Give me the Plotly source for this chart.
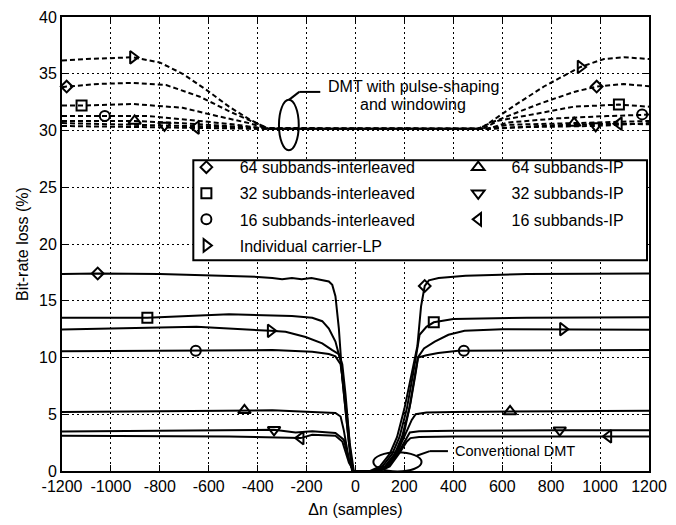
import plotly.graph_objects as go

FONT = "Arial, Liberation Sans, sans-serif"

# ---------------- data ----------------
series_names = ["64 subbands-interleaved", "32 subbands-interleaved", "16 subbands-interleaved",
                "Individual carrier-LP", "64 subbands-IP", "32 subbands-IP", "16 subbands-IP"]
series_symbols = ["diamond-open", "square-open", "circle-open", "triangle-right-open",
                  "triangle-up-open", "triangle-down-open", "triangle-left-open"]

x_tick_vals = [-1200, -1000, -800, -600, -400, -200, 0, 200, 400, 600, 800, 1000, 1200]
x_tick_text = ["-1200", "-1000", "-800", "-600", "-400", "-200", "0", "200", "400", "600", "800", "1000", "1200"]
y_tick_vals = [0, 5, 10, 15, 20, 25, 30, 35, 40]

# Conventional DMT (solid)
conv_x_64i = [-1200, -1054, -800, -517, -400, -340, -300, -260, -220, -180, -140, -109, -95, -82, -68, -54, -34, -14,
              60, 100, 140, 170, 200, 230, 253, 268, 283, 300, 320, 340, 450, 700, 1200]
conv_y_64i = [17.35, 17.4, 17.35, 17.2, 17.1, 17.0, 16.9, 17.0, 16.9, 17.0, 16.85, 16.7, 16.4, 15.4, 12.55, 8.2, 3.9, 0,
              0, 0.4, 1.5, 3.0, 5.5, 8.5, 11.0, 14.5, 16.3, 16.8, 16.9, 17.0, 17.2, 17.35, 17.4]
conv_x_32i = [-1200, -851, -517, -340, -260, -177, -136, -109, -82, -61, -48, -27, -11,
              70, 110, 150, 180, 210, 235, 250, 262, 290, 320, 400, 700, 1200]
conv_y_32i = [13.5, 13.5, 13.8, 13.7, 13.65, 13.5, 13.2, 12.55, 11.4, 9.7, 6.8, 2.5, 0,
              0, 0.4, 1.5, 3.0, 5.5, 8.5, 10.5, 12.0, 12.7, 13.1, 13.4, 13.5, 13.55]
conv_x_16i = [-1200, -653, -517, -340, -177, -109, -82, -61, -48, -30, -14,
              85, 125, 165, 195, 225, 245, 256, 290, 338, 420, 443, 700, 1200]
conv_y_16i = [10.54, 10.6, 10.6, 10.65, 10.5, 10.3, 10.1, 9.4, 7.4, 3.9, 0,
              0, 0.4, 1.5, 3.0, 6.0, 8.5, 10.0, 10.2, 10.4, 10.6, 10.6, 10.6, 10.65]
conv_x_lp = [-1200, -650, -347, -286, -204, -136, -95, -68, -54, -41, -24, -7,
             80, 120, 160, 190, 220, 240, 255, 280, 324, 380, 446, 600, 848, 1200]
conv_y_lp = [12.47, 12.7, 12.35, 12.27, 11.8, 11.25, 10.65, 10.3, 9.4, 6.8, 2.5, 0,
             0, 0.4, 1.5, 3.0, 5.5, 8.0, 10.0, 10.8, 11.4, 12.0, 12.35, 12.5, 12.5, 12.45]
conv_x_64ip = [-1200, -454, -340, -177, -82, -61, -48, -27, -11,
               90, 130, 170, 200, 230, 246, 290, 400, 632, 1200]
conv_y_64ip = [5.2, 5.35, 5.35, 5.2, 5.12, 4.8, 3.6, 1.04, 0,
               0, 0.4, 1.6, 3.0, 4.5, 5.0, 5.15, 5.2, 5.25, 5.3]
conv_x_32ip = [-1200, -600, -333, -245, -177, -82, -48, -27, -11,
               95, 135, 175, 205, 222, 260, 400, 835, 1200]
conv_y_32ip = [3.48, 3.6, 3.63, 3.4, 3.5, 3.34, 2.76, 1.04, 0,
               0, 0.4, 1.6, 2.8, 3.4, 3.5, 3.55, 3.6, 3.6]
conv_x_16ip = [-1200, -517, -224, -177, -82, -54, -27, -7,
               100, 140, 180, 210, 225, 260, 400, 1034, 1200]
conv_y_16ip = [3.1, 3.05, 2.9, 3.2, 3.1, 2.6, 0.75, 0,
               0, 0.4, 1.6, 2.6, 2.9, 3.0, 3.05, 3.05, 3.05]

conv_mk_x_64i, conv_mk_y_64i = [-1054, 283], [17.4, 16.3]
conv_mk_x_32i, conv_mk_y_32i = [-851, 320], [13.5, 13.1]
conv_mk_x_16i, conv_mk_y_16i = [-653, 443], [10.6, 10.6]
conv_mk_x_lp, conv_mk_y_lp = [-347, 848], [12.35, 12.5]
conv_mk_x_64ip, conv_mk_y_64ip = [-454, 632], [5.35, 5.25]
conv_mk_x_32ip, conv_mk_y_32ip = [-333, 835], [3.63, 3.6]
conv_mk_x_16ip, conv_mk_y_16ip = [-224, 1034], [2.9, 3.05]

# DMT with pulse-shaping and windowing (dashed)
psw_x_64i = [-1200, -1181, -1050, -910, -774, -639, -503, -408, -354, 500, 555, 650, 758, 894, 986, 1097, 1200]
psw_y_64i = [33.8, 33.87, 34.1, 34.2, 34.0, 33.0, 31.56, 30.7, 30.15, 30.15, 30.7, 31.5, 32.4, 33.4, 33.87, 34.1, 33.9]
psw_x_32i = [-1200, -1120, -910, -707, -571, -435, -360, 520, 582, 758, 894, 1077, 1200]
psw_y_32i = [32.2, 32.2, 32.34, 32.0, 31.3, 30.65, 30.15, 30.15, 30.85, 31.56, 32.1, 32.28, 32.1]
psw_x_16i = [-1200, -1025, -842, -639, -503, -381, 540, 622, 826, 1029, 1172, 1200]
psw_y_16i = [31.27, 31.27, 31.27, 30.84, 30.55, 30.2, 30.15, 30.7, 31.07, 31.27, 31.42, 31.4]
psw_x_lp = [-1200, -1100, -910, -801, -707, -611, -517, -435, -381, -354, 500, 528, 650, 772, 920, 1016, 1097, 1200]
psw_y_lp = [36.17, 36.3, 36.45, 36.0, 35.0, 33.6, 32.1, 31.0, 30.4, 30.15, 30.15, 30.4, 32.2, 33.9, 35.6, 36.3, 36.45, 36.3]
psw_x_64ip = [-1200, -903, -707, -503, -380, 540, 622, 894, 1200]
psw_y_64ip = [30.84, 30.84, 30.64, 30.4, 30.2, 30.15, 30.5, 30.65, 30.84]
psw_x_32ip = [-1200, -781, -503, -390, 540, 700, 982, 1200]
psw_y_32ip = [30.65, 30.45, 30.3, 30.15, 30.15, 30.3, 30.4, 30.65]
psw_x_16ip = [-1200, -652, -400, 540, 800, 1077, 1200]
psw_y_16ip = [30.4, 30.26, 30.15, 30.15, 30.45, 30.6, 30.55]

psw_mk_x_64i, psw_mk_y_64i = [-1181, 986], [33.87, 33.87]
psw_mk_x_32i, psw_mk_y_32i = [-1120, 1077], [32.2, 32.28]
psw_mk_x_16i, psw_mk_y_16i = [-1025, 1172], [31.27, 31.42]
psw_mk_x_lp, psw_mk_y_lp = [-910, 920], [36.45, 35.6]
psw_mk_x_64ip, psw_mk_y_64ip = [-903, 894], [30.84, 30.65]
psw_mk_x_32ip, psw_mk_y_32ip = [-781, 982], [30.45, 30.4]
psw_mk_x_16ip, psw_mk_y_16ip = [-652, 1077], [30.26, 30.6]

conv_curves = [(conv_x_64i, conv_y_64i), (conv_x_32i, conv_y_32i), (conv_x_16i, conv_y_16i),
               (conv_x_lp, conv_y_lp), (conv_x_64ip, conv_y_64ip), (conv_x_32ip, conv_y_32ip),
               (conv_x_16ip, conv_y_16ip)]
psw_curves = [(psw_x_64i, psw_y_64i), (psw_x_32i, psw_y_32i), (psw_x_16i, psw_y_16i),
              (psw_x_lp, psw_y_lp), (psw_x_64ip, psw_y_64ip), (psw_x_32ip, psw_y_32ip),
              (psw_x_16ip, psw_y_16ip)]
conv_markers = [(conv_mk_x_64i, conv_mk_y_64i), (conv_mk_x_32i, conv_mk_y_32i), (conv_mk_x_16i, conv_mk_y_16i),
                (conv_mk_x_lp, conv_mk_y_lp), (conv_mk_x_64ip, conv_mk_y_64ip), (conv_mk_x_32ip, conv_mk_y_32ip),
                (conv_mk_x_16ip, conv_mk_y_16ip)]
psw_markers = [(psw_mk_x_64i, psw_mk_y_64i), (psw_mk_x_32i, psw_mk_y_32i), (psw_mk_x_16i, psw_mk_y_16i),
               (psw_mk_x_lp, psw_mk_y_lp), (psw_mk_x_64ip, psw_mk_y_64ip), (psw_mk_x_32ip, psw_mk_y_32ip),
               (psw_mk_x_16ip, psw_mk_y_16ip)]

# ---------------- figure ----------------
fig = go.Figure()

for (cx, cy) in conv_curves:
    fig.add_trace(go.Scatter(x=cx, y=cy, mode="lines", line=dict(color="black", width=2),
                             showlegend=False, hoverinfo="skip"))
for (px_, py_) in psw_curves:
    fig.add_trace(go.Scatter(x=px_, y=py_, mode="lines", line=dict(color="black", width=2, dash="5px,3px"),
                             showlegend=False, hoverinfo="skip"))

sizes = {"diamond-open": 9, "square-open": 10, "circle-open": 10}
legend_of = ["legend", "legend", "legend", "legend", "legend2", "legend2", "legend2"]
for i, name in enumerate(series_names):
    sym = series_symbols[i]
    mx = conv_markers[i][0] + psw_markers[i][0]
    my = conv_markers[i][1] + psw_markers[i][1]
    fig.add_trace(go.Scatter(
        x=mx, y=my, mode="markers", name="\u00a0\u00a0\u00a0" + name,
        marker=dict(symbol=sym, size=sizes.get(sym, 11), color="black", line=dict(width=2, color="black")),
        legend=legend_of[i], legendgroup="g%d" % i, cliponaxis=False))

# legend box
fig.add_shape(type="rect", xref="paper", yref="paper", x0=0.2237, x1=0.9966, y0=0.4644, y1=0.6847,
              line=dict(color="black", width=2), fillcolor="white", layer="above")

# ellipses and leader lines
fig.add_shape(type="circle", xref="x", yref="y", x0=-313, x1=-232, y0=28.25, y1=32.7,
              line=dict(color="black", width=2))
fig.add_shape(type="line", xref="x", yref="y", x0=-272, y0=32.7, x1=-230, y1=33.4,
              line=dict(color="black", width=2))
fig.add_shape(type="line", xref="x", yref="y", x0=-230, y0=33.4, x1=-144, y1=33.4,
              line=dict(color="black", width=2))
fig.add_shape(type="circle", xref="x", yref="y", x0=73, x1=270, y0=-0.05, y1=1.65,
              line=dict(color="black", width=2))
fig.add_shape(type="line", xref="x", yref="y", x0=250, y0=1.35, x1=304, y1=1.75,
              line=dict(color="black", width=2))
fig.add_shape(type="line", xref="x", yref="y", x0=304, y0=1.75, x1=378, y1=1.75,
              line=dict(color="black", width=2))

fig.add_annotation(x=238, y=33.85, xref="x", yref="y", text="DMT with pulse-shaping", showarrow=False,
                   font=dict(family=FONT, size=16, color="black"), xanchor="center", yanchor="middle")
fig.add_annotation(x=236, y=32.3, xref="x", yref="y", text="and windowing", showarrow=False,
                   font=dict(family=FONT, size=16, color="black"), xanchor="center", yanchor="middle")
fig.add_annotation(x=400, y=1.75, xref="x", yref="y", text="Conventional DMT", showarrow=False,
                   font=dict(family=FONT, size=14.5, color="black"), xanchor="left", yanchor="middle")

axis_common = dict(showline=True, linecolor="black", linewidth=2, mirror="allticks",
                   ticks="inside", ticklen=6, tickwidth=1, tickcolor="black",
                   showgrid=True, gridcolor="black", gridwidth=1, griddash="2px,3px",
                   zeroline=False, tickfont=dict(family=FONT, size=16, color="black"))

fig.update_layout(
    width=676, height=525,
    margin=dict(l=62, r=24, t=9, b=53),
    paper_bgcolor="white", plot_bgcolor="white",
    font=dict(family=FONT, size=16, color="black"),
    xaxis=dict(range=[-1200, 1200], tickvals=x_tick_vals, ticktext=x_tick_text,
               title=dict(text="\u0394n (samples)", font=dict(family=FONT, size=16), standoff=10),
               **axis_common),
    yaxis=dict(range=[0, 40], tickvals=y_tick_vals,
               title=dict(text="Bit-rate loss (%)", font=dict(family=FONT, size=16), standoff=6),
               **axis_common),
    legend=dict(x=0.2119, y=0.7065, xanchor="left", yanchor="top", bgcolor="rgba(0,0,0,0)",
                borderwidth=0, font=dict(family=FONT, size=16, color="black"), tracegroupgap=2.3,
                itemclick=False, itemdoubleclick=False),
    legend2=dict(x=0.675, y=0.7065, xanchor="left", yanchor="top", bgcolor="rgba(0,0,0,0)",
                 borderwidth=0, font=dict(family=FONT, size=16, color="black"), tracegroupgap=2.3,
                 itemclick=False, itemdoubleclick=False),
)

fig.write_html("out.html")
